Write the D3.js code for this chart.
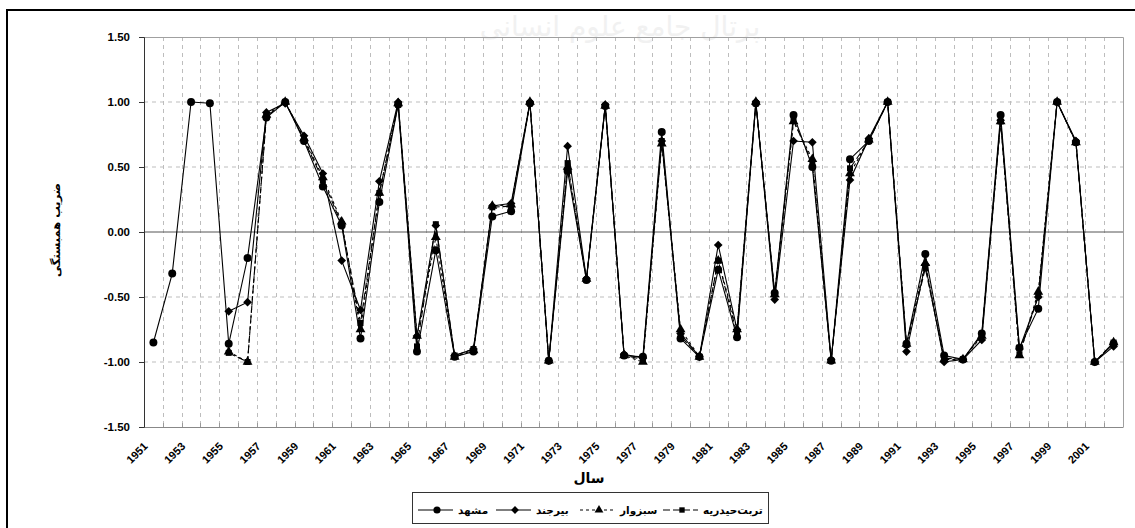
<!DOCTYPE html>
<html>
<head>
<meta charset="utf-8">
<script src="https://cdn.jsdelivr.net/npm/d3@7"></script>
<style>
  body { margin: 0; background: #fff; }
  svg { display: block; }
</style>
</head>
<body>
<script>
// chart size
var width = 1135;
var height = 528;

// categories (years) and labelled years
var years = [1951,1952,1953,1954,1955,1956,1957,1958,1959,1960,1961,1962,1963,1964,1965,1966,1967,1968,1969,1970,
             1971,1972,1973,1974,1975,1976,1977,1978,1979,1980,1981,1982,1983,1984,1985,1986,1987,1988,1989,1990,
             1991,1992,1993,1994,1995,1996,1997,1998,1999,2000,2001,2002];
var yearLabels = [1951,1953,1955,1957,1959,1961,1963,1965,1967,1969,1971,1973,1975,1977,1979,1981,1983,1985,
                  1987,1989,1991,1993,1995,1997,1999,2001];
var yTicks = [-1.5, -1, -0.5, 0, 0.5, 1, 1.5];

// series values, one per year (null = no value)
var mashhad = [-0.85,-0.32,1.00,0.99,-0.86,-0.20,0.88,1.00,0.70,0.35,0.05,-0.82,0.23,0.98,-0.92,-0.14,-0.96,-0.92,0.12,0.16,
               0.99,-0.99,0.47,-0.37,0.97,-0.95,-0.96,0.77,-0.82,-0.96,-0.29,-0.81,0.99,-0.47,0.90,0.50,-0.99,0.56,0.70,1.00,
               -0.86,-0.17,-0.95,-0.98,-0.78,0.90,-0.89,-0.59,1.00,0.69,-1.00,-0.86];
var birjand = [null,null,null,null,-0.61,-0.54,0.92,0.99,0.74,0.45,-0.22,-0.60,0.39,1.00,-0.80,0.05,-0.95,-0.90,0.20,0.22,
               1.00,-0.99,0.66,-0.36,0.98,-0.94,-0.97,0.70,-0.78,-0.96,-0.10,-0.75,1.00,-0.52,0.70,0.69,-0.98,0.40,0.72,1.00,
               -0.92,-0.25,-1.00,-0.98,-0.83,0.86,-0.90,-0.50,1.00,0.70,-1.00,-0.88];
var sabzevar = [null,null,null,null,-0.92,-1.00,0.90,1.00,0.72,0.42,0.08,-0.75,0.30,0.99,-0.80,-0.04,-0.96,-0.91,0.20,0.21,
                1.00,-0.99,0.50,-0.36,0.97,-0.95,-1.00,0.68,-0.75,-0.96,-0.22,-0.75,1.00,-0.48,0.85,0.56,-0.99,0.45,0.71,1.00,
                -0.86,-0.24,-0.98,-0.98,-0.80,0.85,-0.95,-0.46,1.00,0.69,-1.00,-0.85];
var torbat = [null,null,null,null,-0.93,-1.00,0.89,1.00,0.71,0.40,0.06,-0.70,0.30,0.98,-0.88,0.06,-0.95,-0.90,0.19,0.20,
              0.99,-0.99,0.53,-0.37,0.97,-0.95,-0.98,0.70,-0.80,-0.96,-0.22,-0.79,0.99,-0.48,0.86,0.53,-0.99,0.49,0.70,1.00,
              -0.87,-0.28,-0.97,-0.98,-0.79,0.85,-0.94,-0.49,1.00,0.69,-1.00,-0.85];

var seriesNames = ["مشهد", "بیرجند", "سبزوار", "تربت‌حیدریه"];
var seriesValues = [mashhad, birjand, sabzevar, torbat];

// look of each series
var symbols = [d3.symbolCircle, d3.symbolDiamond2 || d3.symbolDiamond, d3.symbolTriangle, d3.symbolSquare];
var symbolSizes = [50, 48, 42, 36];
var dashes = [null, null, "3,3", "7,3"];

var fontLatin = "'Liberation Sans', Arial, sans-serif";
var fontFa = "'DejaVu Sans', sans-serif";

// plot area
var plotLeft = 144, plotRight = 1123, plotTop = 37, plotBottom = 427;

var svg = d3.select("body")
  .append("svg")
  .attr("width", width)
  .attr("height", height);

// faint watermark at the top
svg.append("text")
  .attr("x", 620).attr("y", 36)
  .attr("text-anchor", "middle")
  .style("font-family", fontFa)
  .style("font-size", "28px")
  .style("fill", "#f1f1f1")
  .text("پرتال جامع علوم انسانی");

// outer frame of the chart
svg.append("rect")
  .attr("x", 7).attr("y", 10)
  .attr("width", width + 20).attr("height", height + 20)
  .style("fill", "none")
  .style("stroke", "#000")
  .style("stroke-width", 2);

var x = d3.scaleBand()
  .domain(years)
  .range([plotLeft, plotRight]);

var y = d3.scaleLinear()
  .domain([-1.5, 1.5])
  .range([plotBottom, plotTop]);

function cx(d) { return x(d) + x.bandwidth() / 2; }

// vertical dashed grid at category boundaries
svg.append("g")
  .selectAll("line")
  .data(years.slice(1))
  .enter()
  .append("line")
  .attr("x1", function(d) { return Math.round(x(d)) + 0.5; })
  .attr("x2", function(d) { return Math.round(x(d)) + 0.5; })
  .attr("y1", plotTop)
  .attr("y2", plotBottom)
  .style("stroke", "#bdbdbd")
  .style("stroke-dasharray", "4,4");

// horizontal dashed grid
svg.append("g")
  .selectAll("line")
  .data(yTicks.filter(function(d) { return d !== 0 && d !== 1.5 && d !== -1.5; }))
  .enter()
  .append("line")
  .attr("x1", plotLeft)
  .attr("x2", plotRight)
  .attr("y1", function(d) { return y(d); })
  .attr("y2", function(d) { return y(d); })
  .style("stroke", "#bdbdbd")
  .style("stroke-dasharray", "4,4");

// zero line
svg.append("line")
  .attr("x1", plotLeft).attr("x2", plotRight)
  .attr("y1", y(0)).attr("y2", y(0))
  .style("stroke", "#555");

// plot border top and right
svg.append("path")
  .attr("d", "M" + plotLeft + "," + (plotTop + 0.5) + "H" + (plotRight + 0.5) + "V" + plotBottom)
  .style("fill", "none")
  .style("stroke", "#a0a0a0");

// small tick marks on the x axis
svg.append("g")
  .selectAll("line")
  .data(years.slice(1))
  .enter()
  .append("line")
  .attr("x1", function(d) { return Math.round(x(d)) + 0.5; })
  .attr("x2", function(d) { return Math.round(x(d)) + 0.5; })
  .attr("y1", plotBottom - 4)
  .attr("y2", plotBottom)
  .style("stroke", "#999");

// x axis
var xAxis = svg.append("g")
  .attr("transform", "translate(0," + plotBottom + ")")
  .call(d3.axisBottom(x).tickValues(yearLabels).tickSize(0));
xAxis.select(".domain").style("stroke", "#888");
xAxis.selectAll("text")
  .attr("x", 0).attr("y", 0).attr("dy", 0)
  .attr("transform", "translate(-5,20) rotate(-45)")
  .style("text-anchor", "end")
  .style("font-family", fontLatin)
  .style("font-weight", "bold")
  .style("font-size", "11px")
  .style("fill", "#000");

// y axis
var yAxis = svg.append("g")
  .attr("transform", "translate(" + plotLeft + ",0)")
  .call(d3.axisLeft(y).tickValues(yTicks).tickSize(5).tickPadding(9)
    .tickFormat(function(d) { return d.toFixed(2); }));
yAxis.select(".domain").style("stroke", "#333");
yAxis.selectAll("line").style("stroke", "#333");
yAxis.selectAll("text")
  .style("font-family", fontLatin)
  .style("font-weight", "bold")
  .style("font-size", "11.5px")
  .style("fill", "#000");

// axis titles
svg.append("text")
  .attr("x", 589).attr("y", 483)
  .attr("text-anchor", "middle")
  .style("font-family", fontFa)
  .style("font-weight", "bold")
  .style("font-size", "14px")
  .text("سال");

svg.append("text")
  .attr("transform", "translate(60,230) rotate(-90)")
  .attr("text-anchor", "middle")
  .style("font-family", fontFa)
  .style("font-weight", "bold")
  .style("font-size", "11.5px")
  .text("ضریب همبستگی");

// series lines and markers
var line = d3.line()
  .defined(function(d) { return d.v !== null; })
  .x(function(d) { return cx(d.year); })
  .y(function(d) { return y(d.v); });

seriesValues.forEach(function(vals, i) {
  var pts = years.map(function(yr, j) { return { year: yr, v: vals[j] }; });
  var g = svg.append("g");
  g.append("path")
    .datum(pts)
    .attr("d", line)
    .style("fill", "none")
    .style("stroke", "#000")
    .style("stroke-width", 1.1)
    .style("stroke-dasharray", dashes[i]);
  g.selectAll("path.pt")
    .data(pts.filter(function(d) { return d.v !== null; }))
    .enter()
    .append("path")
    .attr("class", "pt")
    .attr("d", d3.symbol().type(symbols[i]).size(symbolSizes[i]))
    .attr("transform", function(d) { return "translate(" + cx(d.year) + "," + y(d.v) + ")"; })
    .style("fill", "#000");
});

// legend
var legendX = [418, 496, 580, 663];
var legend = svg.append("g");
legend.append("rect")
  .attr("x", 412.5).attr("y", 492.5)
  .attr("width", 356).attr("height", 31)
  .style("fill", "#fff")
  .style("stroke", "#333");

seriesNames.forEach(function(name, i) {
  var lx = legendX[i], ly = 510;
  legend.append("line")
    .attr("x1", lx).attr("x2", lx + 35)
    .attr("y1", ly).attr("y2", ly)
    .style("stroke", "#000")
    .style("stroke-width", 1.1)
    .style("stroke-dasharray", dashes[i]);
  legend.append("path")
    .attr("d", d3.symbol().type(symbols[i]).size(symbolSizes[i] * 0.8))
    .attr("transform", "translate(" + (lx + 19) + "," + ly + ")")
    .style("fill", "#000");
  legend.append("text")
    .attr("x", lx + 40).attr("y", ly + 4)
    .style("font-family", fontFa)
    .style("font-weight", "bold")
    .style("font-size", "10.5px")
    .text(name);
});
</script>
</body>
</html>
